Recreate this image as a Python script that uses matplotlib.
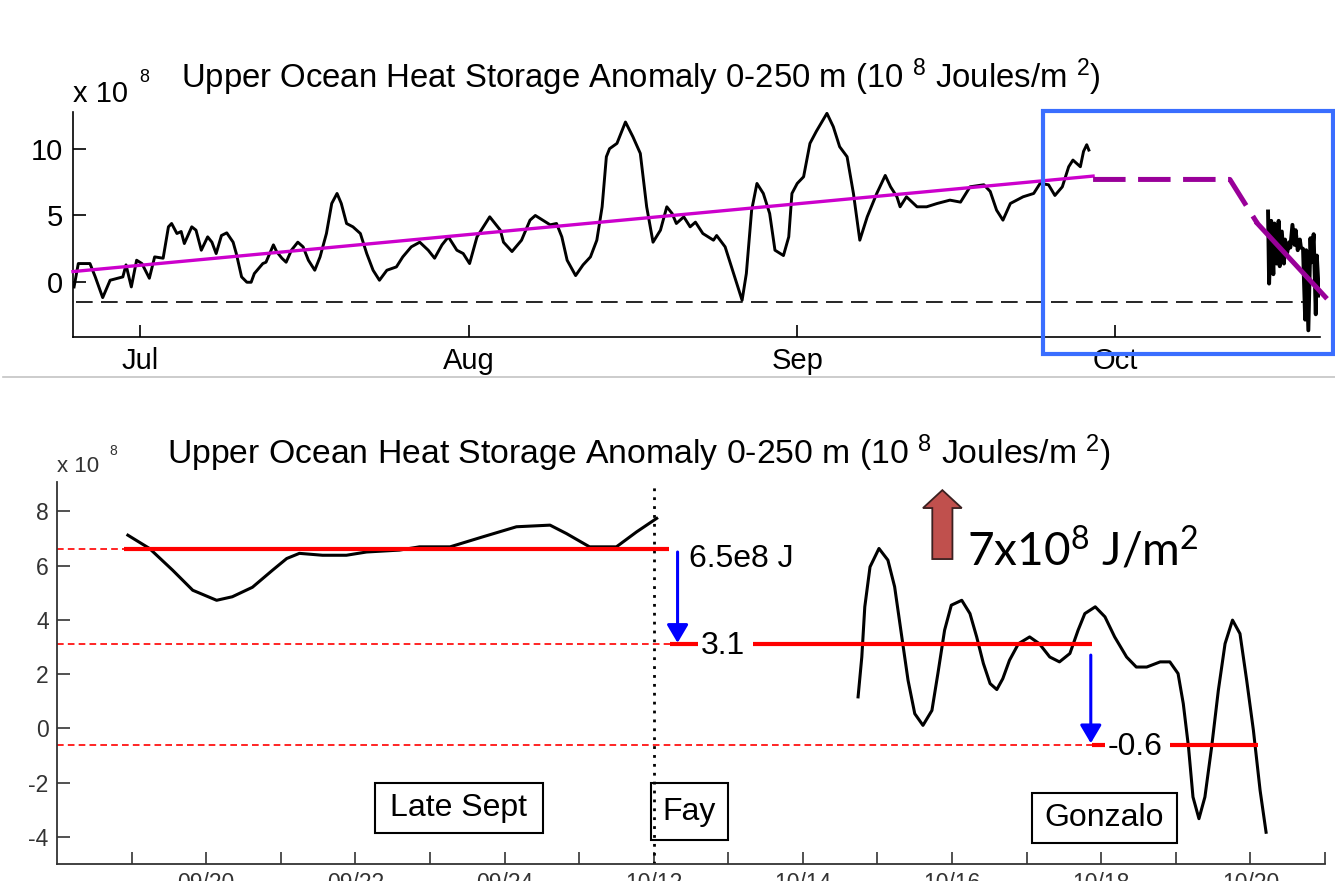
import matplotlib
matplotlib.use("Agg")
import matplotlib.pyplot as plt
from matplotlib.patches import Rectangle, FancyArrow
from matplotlib.lines import Line2D

plt.rcParams['font.family'] = ['Liberation Sans', 'DejaVu Sans']
plt.rcParams['mathtext.default'] = 'regular'
plt.rcParams['axes.unicode_minus'] = False
plt.rcParams['lines.solid_joinstyle'] = 'round'

W, H = 1335, 881

def fx(px):
    return px / W

def fy(py):
    return 1 - py / H

# ---- upper panel: season record, days since 1 Jul, units of 1e8 J/m^2
season_days = [-6.2, -5.8, -4.7, -4.2, -3.5, -2.8, -1.6, -1.3, -0.8, -0.3,
               0.2, 0.9, 1.4, 2.2, 2.7, 3.0, 3.5, 3.9, 4.2, 4.9,
               5.3, 5.8, 6.4, 6.8, 7.2, 7.7, 8.2, 8.8, 9.1, 9.6,
               10.1, 10.5, 10.8, 11.6, 11.9, 12.6, 12.9, 13.4, 13.8, 14.3,
               14.9, 15.4, 15.9, 16.5, 17.0, 17.6, 18.1, 18.6, 19.0, 19.5,
               20.1, 20.8, 21.4, 22.0, 22.6, 23.3, 24.2, 24.8, 25.6, 26.4,
               27.2, 27.8, 28.5, 29.1, 29.9, 30.5, 31.1, 31.8, 33.0, 34.0,
               34.3, 35.1, 36.0, 36.8, 37.3, 38.0, 38.7, 39.3, 39.8, 40.3,
               41.1, 41.8, 42.5, 43.1, 43.6, 44.0, 44.3, 45.0, 45.8, 46.5,
               47.2, 47.8, 48.4, 49.1, 49.7, 50.2, 50.6, 51.3, 51.9, 52.4,
               53.1, 54.1, 54.4, 55.2, 56.0, 56.8, 57.2, 57.7, 58.2, 58.8,
               59.4, 59.9, 60.7, 61.2, 61.5, 62.0, 62.6, 63.2, 63.8, 64.8,
               65.4, 66.0, 66.7, 67.3, 67.9, 68.6, 69.5, 70.3, 70.8, 71.4,
               71.7, 72.3, 73.3, 74.2, 75.2, 76.4, 77.4, 78.3, 79.6, 80.2,
               80.8, 81.4, 82.1, 83.3, 84.3, 84.9, 85.7, 86.3, 87.0, 87.6,
               88.0, 88.7, 89.0, 89.3, 89.5]
season_ohc = [-0.35, 1.4, 1.4, 0.4, -1.15, 0.15, 0.4, 1.3, -0.35, 1.65,
              1.4, 0.3, 1.9, 1.8, 4.15, 4.4, 3.65, 3.8, 2.9, 4.15,
              3.9, 2.4, 3.4, 3.0, 2.15, 3.5, 3.7, 3.0, 2.15, 0.4,
              0.0, 0.0, 0.65, 1.4, 1.5, 2.8, 2.3, 1.8, 1.5, 2.4,
              3.0, 2.65, 1.65, 0.9, 1.9, 3.65, 5.9, 6.65, 5.9, 4.4,
              4.15, 3.65, 2.15, 0.9, 0.15, 0.9, 1.15, 1.9, 2.65, 3.0,
              2.4, 1.8, 2.8, 3.4, 2.4, 2.15, 1.4, 3.4, 4.9, 3.9,
              3.0, 2.3, 3.15, 4.65, 5.0, 4.65, 4.3, 4.4, 3.4, 1.65,
              0.5, 1.3, 1.9, 3.15, 5.65, 9.4, 10.0, 10.4, 12.0, 10.9,
              9.65, 5.65, 3.0, 3.9, 5.65, 5.15, 4.4, 4.9, 4.15, 4.5,
              3.65, 3.15, 3.5, 2.65, 0.65, -1.35, 0.65, 5.4, 7.4, 6.65,
              5.15, 2.4, 2.0, 3.4, 6.65, 7.4, 7.9, 10.4, 11.3, 12.65,
              11.65, 10.15, 9.4, 6.65, 3.15, 4.9, 6.65, 8.0, 7.15, 6.4,
              5.65, 6.4, 5.65, 5.65, 5.9, 6.15, 6.0, 7.15, 7.3, 6.8,
              5.4, 4.65, 5.9, 6.4, 6.65, 7.4, 7.3, 6.5, 7.15, 8.65,
              9.15, 8.65, 9.8, 10.3, 9.9]

oct_days = [106.4, 106.5, 106.7, 106.9, 107.0, 107.2, 107.4, 107.5, 107.7, 107.9,
            108.0, 108.2, 108.4, 108.5, 108.7, 108.9, 109.0, 109.2, 109.4, 109.5,
            109.7, 109.9, 110.0, 110.2, 110.4, 110.5, 110.7, 110.9, 111.0, 111.2]
oct_ohc = [5.3, -0.1, 4.6, 0.6, 4.4, 1.4, 4.6, 1.2, 3.8, 1.4,
           3.2, 2.2, 3.0, 2.6, 4.3, 2.8, 3.9, 2.4, 3.2, 2.6,
           2.5, -2.8, 2.4, -3.6, 3.3, 1.5, 3.6, -2.4, 2.0, -1.0]

ref_days = [-6.0, 109.7]
ref_level = -1.5

trend_days = [-6.3, 89.9]
trend_ohc = [0.8, 7.95]
hold_days = [89.9, 102.8, 105.4]
hold_ohc = [7.7, 7.7, 4.4]
drop_days = [105.4, 111.8]
drop_ohc = [4.4, -1.1]

month_days = [0, 31, 62, 92]
month_names = ['Jul', 'Aug', 'Sep', 'Oct']

# ---- lower panel: one unit per day on the axis
sept_x = [-0.05, 0.24, 0.55, 0.82, 1.14, 1.35, 1.62, 1.89, 2.08, 2.25,
          2.56, 2.88, 3.15, 3.59, 3.86, 4.27, 4.71, 5.16, 5.61, 5.83,
          6.14, 6.50, 6.77, 7.04]
sept_ohc = [7.12, 6.63, 5.83, 5.09, 4.72, 4.85, 5.2, 5.83, 6.26, 6.45,
            6.38, 6.38, 6.5, 6.57, 6.69, 6.69, 7.06, 7.43, 7.49, 7.18,
            6.69, 6.69, 7.24, 7.74]

storm_x = [9.74, 9.79, 9.83, 9.90, 10.02, 10.14, 10.23, 10.32, 10.41, 10.50,
           10.61, 10.73, 10.81, 10.90, 10.99, 11.13, 11.24, 11.33, 11.42, 11.51,
           11.60, 11.68, 11.77, 11.89, 12.04, 12.17, 12.31, 12.44, 12.58, 12.69,
           12.78, 12.92, 13.05, 13.18, 13.34, 13.47, 13.61, 13.79, 13.92, 14.03,
           14.10, 14.17, 14.23, 14.31, 14.39, 14.48, 14.57, 14.66, 14.76, 14.86,
           14.95, 15.04, 15.13, 15.21]
storm_ohc = [1.16, 2.63, 4.48, 5.95, 6.63, 6.2, 5.22, 3.49, 1.77, 0.54,
             0.11, 0.66, 2.02, 3.62, 4.54, 4.72, 4.23, 3.37, 2.39, 1.65,
             1.43, 1.83, 2.51, 3.12, 3.37, 3.12, 2.63, 2.45, 2.76, 3.62,
             4.23, 4.48, 4.11, 3.37, 2.63, 2.26, 2.26, 2.45, 2.45, 2.02,
             0.91, -0.69, -2.53, -3.33, -2.53, -0.69, 1.40, 3.12, 3.99, 3.49,
             1.77, -0.07, -2.29, -3.83]

level_before = 6.6
level_after_fay = 3.1
level_after_gonzalo = -0.6

day_labels = ['', '09/20', '', '09/22', '', '09/24', '', '10/12', '',
              '10/14', '', '10/16', '', '10/18', '', '10/20', '']

title = r'Upper Ocean Heat Storage Anomaly 0-250 m (10 $^{8}$ Joules/m $^{2}$)'

fig = plt.figure(figsize=(W / 100, H / 100), dpi=100)

# ================= upper panel =================
ax1 = fig.add_axes([fx(73), fy(337), (1320 - 73) / W, (337 - 112) / H])
ax1.plot(ref_days, [ref_level, ref_level], color='black', lw=1.2, dashes=(10, 5))
ax1.plot(season_days, season_ohc, color='black', lw=2.1, zorder=2)
ax1.plot(oct_days, oct_ohc, color='black', lw=2.8, zorder=2)
ax1.plot(trend_days, trend_ohc, color='#CC00CC', lw=2.4, zorder=3, clip_on=False)
ax1.plot(hold_days, hold_ohc, color='#990099', lw=3.6, dashes=(6.5, 2.5), zorder=3)
ax1.plot(drop_days, drop_ohc, color='#990099', lw=3.6, zorder=3, clip_on=False)

ax1.set_xlim(-6.3, 111.3)
ax1.set_ylim(-4.1, 12.75)
ax1.set_xticks(month_days)
ax1.set_xticklabels(month_names)
ax1.set_yticks([0, 5, 10])
ax1.tick_params(direction='in', length=9, width=1.2, labelsize=21, pad=7)
ax1.spines[['top', 'right']].set_visible(False)
for s in ['left', 'bottom']:
    ax1.spines[s].set_linewidth(1.2)

fig.text(fx(73), fy(102), 'x 10', fontsize=21, va='baseline')
fig.text(fx(139), fy(82), '8', fontsize=13, va='baseline')
fig.text(fx(641), fy(77), title, fontsize=23.7, ha='center', va='center')

# highlight box around the storm period
fig.patches.append(Rectangle((fx(1043), fy(354)), (1333 - 1043) / W, (354 - 111) / H,
                             transform=fig.transFigure, fill=False,
                             edgecolor='#3A6EFF', lw=3.0, zorder=5))

# separator between the two panels
fig.lines.append(Line2D([fx(3), fx(1335)], [fy(377), fy(377)],
                        transform=fig.transFigure, color='#C4C4C4', lw=1.2))

# ================= lower panel =================
ax2 = fig.add_axes([fx(57), fy(864), (1325 - 57) / W, (864 - 482) / H])
ax2.set_xlim(-1.0, 16.0)
ax2.set_ylim(-5.0, 9.08)

red_dash = dict(color='#FF0000', lw=1.2, dashes=(4, 2.5))
ax2.plot([-1.0, -0.1], [level_before] * 2, **red_dash)
ax2.plot([-1.0, 7.22], [level_after_fay] * 2, **red_dash)
ax2.plot([-1.0, 12.88], [level_after_gonzalo] * 2, **red_dash)

ax2.plot(sept_x, sept_ohc, color='black', lw=2.2, zorder=3)
ax2.plot(storm_x, storm_ohc, color='black', lw=2.2, zorder=3)

red_solid = dict(color='#FF0000', lw=3.0, solid_capstyle='butt', zorder=4)
ax2.plot([-0.1, 7.2], [level_before] * 2, **red_solid)
ax2.plot([7.22, 7.59], [level_after_fay] * 2, **red_solid)
ax2.plot([8.33, 12.88], [level_after_fay] * 2, **red_solid)
ax2.plot([12.88, 13.05], [level_after_gonzalo] * 2, **red_solid)
ax2.plot([13.92, 15.1], [level_after_gonzalo] * 2, **red_solid)

# storm marker line
ax2.plot([7.0, 7.0], [-5.0, 8.97], color='black', lw=2.0, dashes=(1, 2.2), zorder=2)

blue_arrow = dict(arrowstyle='-|>,head_length=1.1,head_width=0.65', color='#0000FF',
                  lw=2.2, mutation_scale=10, shrinkA=0, shrinkB=0)
ax2.annotate('', xy=(7.32, level_after_fay + 0.05), xytext=(7.32, 6.5),
             arrowprops=blue_arrow, zorder=5)
ax2.annotate('', xy=(12.86, level_after_gonzalo + 0.05), xytext=(12.86, 2.7),
             arrowprops=blue_arrow, zorder=5)

ax2.text(7.47, 6.24, '6.5e8 J', fontsize=23, va='center', ha='left')
ax2.text(7.63, level_after_fay - 0.05, '3.1', fontsize=23, va='center', ha='left')
ax2.text(13.08, level_after_gonzalo - 0.1, '-0.6', fontsize=23, va='center', ha='left')

for (x0, x1, y0, y1, name) in [(3.26, 5.51, -3.87, -2.03, 'Late Sept'),
                               (6.96, 7.99, -4.13, -2.03, 'Fay'),
                               (12.07, 14.02, -4.24, -2.40, 'Gonzalo')]:
    ax2.add_patch(Rectangle((x0, y0), x1 - x0, y1 - y0, fill=False,
                            edgecolor='black', lw=1.5, zorder=6))
    ax2.text((x0 + x1) / 2, (y0 + y1) / 2, name, fontsize=23,
             ha='center', va='center', zorder=6)

ax2.add_patch(FancyArrow(10.87, 6.24, 0, 2.54, width=0.27, head_width=0.52,
                         head_length=0.66, length_includes_head=True,
                         facecolor='#C0504D', edgecolor='#3B2020', lw=1.3,
                         zorder=6, clip_on=False))
fig.text(fx(967), fy(566), r'7x10$^{8}$ J/m$^{2}$', fontsize=33,
         family=['Lato', 'DejaVu Sans'], va='baseline')

ax2.set_xticks(range(17))
ax2.set_xticklabels(day_labels)
ax2.set_yticks([-4, -2, 0, 2, 4, 6, 8])
ax2.tick_params(direction='in', length=9, width=1.2, labelsize=16.5,
                labelcolor='#333333', color='#333333', pad=6)
ax2.spines[['top', 'right']].set_visible(False)
for s in ['left', 'bottom']:
    ax2.spines[s].set_linewidth(1.3)
    ax2.spines[s].set_color('#333333')

fig.text(fx(57), fy(472), 'x 10', fontsize=16, va='baseline', color='#333333')
fig.text(fx(109), fy(455), '8', fontsize=10, va='baseline', color='#333333')
fig.text(fx(639), fy(453), title, fontsize=24.3, ha='center', va='center')

fig.savefig('out.png', dpi=100)
